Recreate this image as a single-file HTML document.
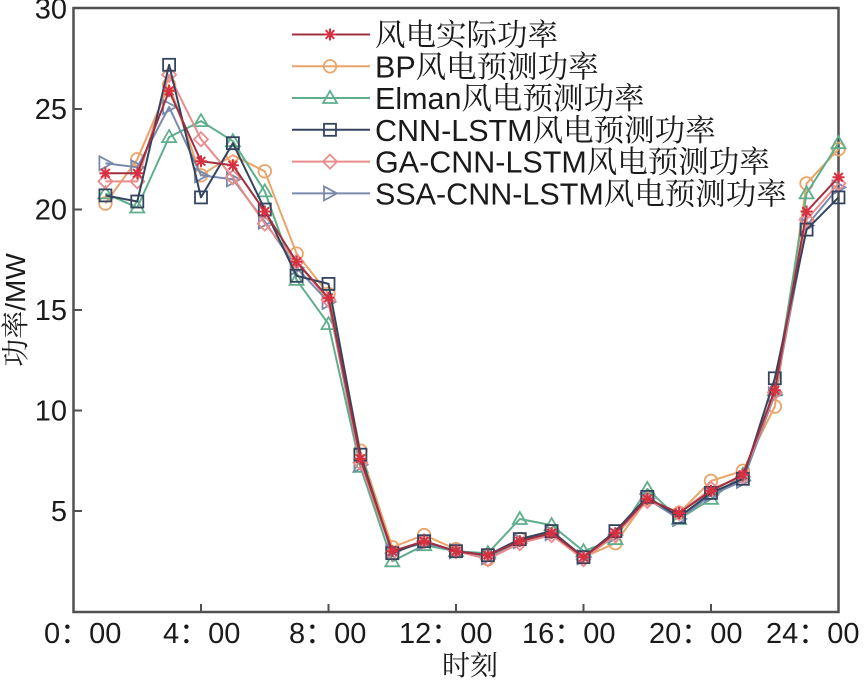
<!DOCTYPE html>
<html><head><meta charset="utf-8"><style>
html,body{margin:0;padding:0;background:#fff;}
svg{display:block;}
.t{font-family:"Liberation Sans","Noto Sans CJK SC",sans-serif;font-size:29px;fill:#1a1a1a;}
.lg{font-family:"Liberation Sans","Noto Serif CJK SC",serif;font-size:30.5px;fill:#1a1a1a;}
.cj{font-family:"Liberation Sans","Noto Serif CJK SC",serif;font-size:28px;fill:#1a1a1a;}
</style></head><body>
<svg width="864" height="680" viewBox="0 0 864 680" xmlns="http://www.w3.org/2000/svg">
<defs>
<marker id="mStar" markerUnits="userSpaceOnUse" markerWidth="20" markerHeight="20" viewBox="-10 -10 20 20" refX="0" refY="0" overflow="visible">
<path d="M-6,0H6M0,-6V6M-4.3,-4.3L4.3,4.3M-4.3,4.3L4.3,-4.3" stroke="#d83040" stroke-width="2" fill="none"/>
</marker>
<marker id="mCirc" markerUnits="userSpaceOnUse" markerWidth="20" markerHeight="20" viewBox="-10 -10 20 20" refX="0" refY="0" overflow="visible">
<circle r="6.3" stroke="#eba468" stroke-width="1.8" fill="none"/>
</marker>
<marker id="mTri" markerUnits="userSpaceOnUse" markerWidth="20" markerHeight="20" viewBox="-10 -10 20 20" refX="0" refY="0" overflow="visible">
<path d="M0,-7L7,5H-7Z" stroke="#5fae8c" stroke-width="1.8" fill="none"/>
</marker>
<marker id="mSq" markerUnits="userSpaceOnUse" markerWidth="20" markerHeight="20" viewBox="-10 -10 20 20" refX="0" refY="0" overflow="visible">
<rect x="-6" y="-6" width="12" height="12" stroke="#34445e" stroke-width="1.8" fill="none"/>
</marker>
<marker id="mDia" markerUnits="userSpaceOnUse" markerWidth="20" markerHeight="20" viewBox="-10 -10 20 20" refX="0" refY="0" overflow="visible">
<path d="M0,-7L7,0L0,7L-7,0Z" stroke="#ea8c8c" stroke-width="1.8" fill="none"/>
</marker>
<marker id="mTriR" markerUnits="userSpaceOnUse" markerWidth="20" markerHeight="20" viewBox="-10 -10 20 20" refX="0" refY="0" overflow="visible">
<path d="M-6,-7L7,0L-6,7Z" stroke="#7a8aac" stroke-width="1.8" fill="none"/>
</marker>
</defs>

<!-- axes box -->
<rect x="73.5" y="8" width="765" height="604" fill="none" stroke="#505050" stroke-width="2.5"/>
<!-- y ticks -->
<path d="M74,511H82M74,410.5H82M74,310H82M74,209.5H82M74,109H82" stroke="#505050" stroke-width="2"/>
<!-- x ticks -->
<path d="M201,612V604M328.5,612V604M456,612V604M583.5,612V604M711,612V604" stroke="#505050" stroke-width="2"/>

<!-- y tick labels -->
<g class="t" text-anchor="end">
<text x="67" y="18.5">30</text>
<text x="67" y="119">25</text>
<text x="67" y="219.5">20</text>
<text x="67" y="320">15</text>
<text x="67" y="420.5">10</text>
<text x="67" y="521">5</text>
</g>
<!-- x tick labels -->
<g class="t">
<text x="44" y="643">0：00</text>
<text x="163" y="643">4：00</text>
<text x="289" y="643">8：00</text>
<text x="399" y="643">12：00</text>
<text x="522" y="643">16：00</text>
<text x="649" y="643">20：00</text>
<text x="766" y="643">24：00</text>
</g>
<text class="cj" x="470" y="675" text-anchor="middle">时刻</text>
<text class="cj" transform="translate(25,310) rotate(-90)" text-anchor="middle">功率/MW</text>

<!-- series -->
<g fill="none" stroke-width="2" stroke-linejoin="round">
<polyline stroke="#eba468" marker-start="url(#mCirc)" marker-mid="url(#mCirc)" marker-end="url(#mCirc)" points="105.4,203.5 137.3,159.3 169.1,84.9 201,175.3 232.9,155.2 264.8,171.3 296.6,253.7 328.5,293.9 360.4,450.7 392.3,547.2 424.1,535.1 456,549.2 487.9,559.2 519.8,539.1 551.6,531.1 583.5,557.2 615.4,543.2 647.3,498.9 679.1,513 711,480.9 742.9,470.8 774.8,406.5 806.6,183.4 838.5,149.2"/>
<polyline stroke="#5fae8c" marker-start="url(#mTri)" marker-mid="url(#mTri)" marker-end="url(#mTri)" points="105.4,193.4 137.3,207.5 169.1,137.1 201,121.1 232.9,141.2 264.8,191.4 296.6,279.9 328.5,324.1 360.4,466.8 392.3,561.3 424.1,545.2 456,551.2 487.9,553.2 519.8,519 551.6,525.1 583.5,551.2 615.4,539.1 647.3,488.9 679.1,519 711,498.9 742.9,474.8 774.8,390.4 806.6,193.4 838.5,143.2"/>
<polyline stroke="#7a8aac" marker-start="url(#mTriR)" marker-mid="url(#mTriR)" marker-end="url(#mTriR)" points="105.4,163.3 137.3,167.3 169.1,107 201,175.3 232.9,179.4 264.8,221.6 296.6,267.8 328.5,302 360.4,464.8 392.3,551.2 424.1,543.2 456,551.2 487.9,557.2 519.8,541.2 551.6,533.1 583.5,557.2 615.4,535.1 647.3,498.9 679.1,519 711,494.9 742.9,480.9 774.8,394.4 806.6,225.6 838.5,187.4"/>
<polyline stroke="#ea8c8c" marker-start="url(#mDia)" marker-mid="url(#mDia)" marker-end="url(#mDia)" points="105.4,181.4 137.3,181.4 169.1,74.8 201,139.2 232.9,177.3 264.8,223.6 296.6,261.8 328.5,300 360.4,462.8 392.3,553.2 424.1,541.2 456,551.2 487.9,559.2 519.8,543.2 551.6,535.1 583.5,559.2 615.4,535.1 647.3,501 679.1,513 711,488.9 742.9,476.8 774.8,392.4 806.6,219.6 838.5,183.4"/>
<polyline stroke="#34445e" marker-start="url(#mSq)" marker-mid="url(#mSq)" marker-end="url(#mSq)" points="105.4,195.4 137.3,201.5 169.1,64.8 201,197.4 232.9,143.2 264.8,209.5 296.6,275.8 328.5,283.9 360.4,454.7 392.3,553.2 424.1,541.2 456,551.2 487.9,555.2 519.8,539.1 551.6,531.1 583.5,557.2 615.4,531.1 647.3,496.9 679.1,517 711,492.9 742.9,478.8 774.8,378.3 806.6,229.6 838.5,197.4"/>
<polyline stroke="#a03040" marker-start="url(#mStar)" marker-mid="url(#mStar)" marker-end="url(#mStar)" points="105.4,173.3 137.3,173.3 169.1,90.9 201,161.3 232.9,165.3 264.8,211.5 296.6,261.8 328.5,297.9 360.4,458.7 392.3,551.2 424.1,541.2 456,551.2 487.9,555.2 519.8,541.2 551.6,533.1 583.5,557.2 615.4,533.1 647.3,498.9 679.1,513 711,490.9 742.9,474.8 774.8,390.4 806.6,211.5 838.5,177.3"/>
</g>

<!-- legend -->
<g fill="none" stroke-width="2">
<polyline stroke="#a03040" marker-mid="url(#mStar)" points="292,34.5 330,34.5 370,34.5"/>
<polyline stroke="#eba468" marker-mid="url(#mCirc)" points="292,66.3 330,66.3 370,66.3"/>
<polyline stroke="#5fae8c" marker-mid="url(#mTri)" points="292,98 330,98 370,98"/>
<polyline stroke="#34445e" marker-mid="url(#mSq)" points="292,129.8 330,129.8 370,129.8"/>
<polyline stroke="#ea8c8c" marker-mid="url(#mDia)" points="292,161.6 330,161.6 370,161.6"/>
<polyline stroke="#7a8aac" marker-mid="url(#mTriR)" points="292,193.4 330,193.4 370,193.4"/>
</g>
<g class="lg">
<text x="375" y="45.5">风电实际功率</text>
<text x="375" y="77.3">BP风电预测功率</text>
<text x="375" y="109">Elman风电预测功率</text>
<text x="375" y="140.8">CNN-LSTM风电预测功率</text>
<text x="375" y="172.6">GA-CNN-LSTM风电预测功率</text>
<text x="375" y="204.4">SSA-CNN-LSTM风电预测功率</text>
</g>
</svg>
</body></html>
